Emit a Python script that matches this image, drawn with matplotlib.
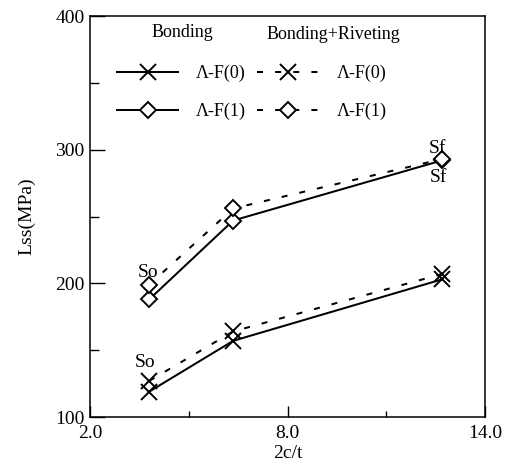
import matplotlib
matplotlib.use("Agg")
import matplotlib.pyplot as plt
from matplotlib.ticker import MultipleLocator, FixedLocator

plt.rcParams['font.family'] = ['Liberation Serif', 'DejaVu Serif']

# data
ratio = [3.8, 6.35, 12.7]                 # 2c/t
bond_af0 = [119, 157, 203]
bond_af1 = [188, 247, 292]
rivet_af0 = [127, 164, 207]
rivet_af1 = [199, 256, 293]
labels_af = ["Λ-F(0)", "Λ-F(1)"]
group_titles = ["Bonding", "Bonding+Riveting"]

fig = plt.figure(figsize=(5.10, 4.73), dpi=100)
ax = fig.add_axes([90/510, 56/473, 395/510, 401/473])

dash = (0, (3.0, 6.0))
lw = 1.45
xkw = dict(marker='x', markersize=11.5, markeredgewidth=1.4, color='black')
dkw = dict(marker='D', markersize=8.5, markerfacecolor='white', markeredgewidth=1.4, color='black')

b0, = ax.plot(ratio, bond_af0, linestyle='-', linewidth=lw, **xkw)
r0, = ax.plot(ratio, rivet_af0, linestyle=dash, linewidth=lw, **xkw)
b1, = ax.plot(ratio, bond_af1, linestyle='-', linewidth=lw, **dkw)
r1, = ax.plot(ratio, rivet_af1, linestyle=dash, linewidth=lw, **dkw)

ax.set_xlim(2.0, 14.0)
ax.set_ylim(100, 400)
ax.xaxis.set_major_locator(FixedLocator([2.0, 8.0, 14.0]))
ax.xaxis.set_minor_locator(FixedLocator([5.0, 11.0]))
ax.yaxis.set_major_locator(MultipleLocator(100))
ax.yaxis.set_minor_locator(MultipleLocator(50))
ax.set_xticklabels(["2.0", "8.0", "14.0"])
ax.tick_params(axis='both', which='both', direction='in', top=False, right=False, labelsize=14)
ax.tick_params(axis='y', which='major', length=11, width=1.0, pad=4)
ax.tick_params(axis='y', which='minor', length=6.5, width=1.0)
ax.tick_params(axis='x', which='major', length=8, width=1.0, pad=6)
ax.tick_params(axis='x', which='minor', length=4, width=1.0)
for s in ax.spines.values():
    s.set_linewidth(1.1)

ax.set_xlabel("2c/t", fontsize=14, labelpad=2)
ax.set_ylabel("Lss(MPa)", fontsize=14, labelpad=14)

# annotations
ax.text(3.77, 208, "So", fontsize=14, ha='center', va='center')
ax.text(3.68, 141, "So", fontsize=14, ha='center', va='center')
ax.text(12.57, 301, "Sf", fontsize=14, ha='center', va='center')
ax.text(12.6, 279, "Sf", fontsize=14, ha='center', va='center')

# legend
ax.text(0.235, 0.958, group_titles[0], transform=ax.transAxes, fontsize=13, ha='center', va='center')
ax.text(0.615, 0.953, group_titles[1], transform=ax.transAxes, fontsize=13, ha='center', va='center')
leg = ax.legend([b0, b1, r0, r1], labels_af + labels_af, ncol=2, frameon=False,
                loc='upper left', bbox_to_anchor=(0.068, 0.878), fontsize=13,
                handlelength=3.4, handletextpad=1.0, columnspacing=0.6,
                labelspacing=1.15, borderpad=0, borderaxespad=0)

fig.savefig("out.png", dpi=100)
